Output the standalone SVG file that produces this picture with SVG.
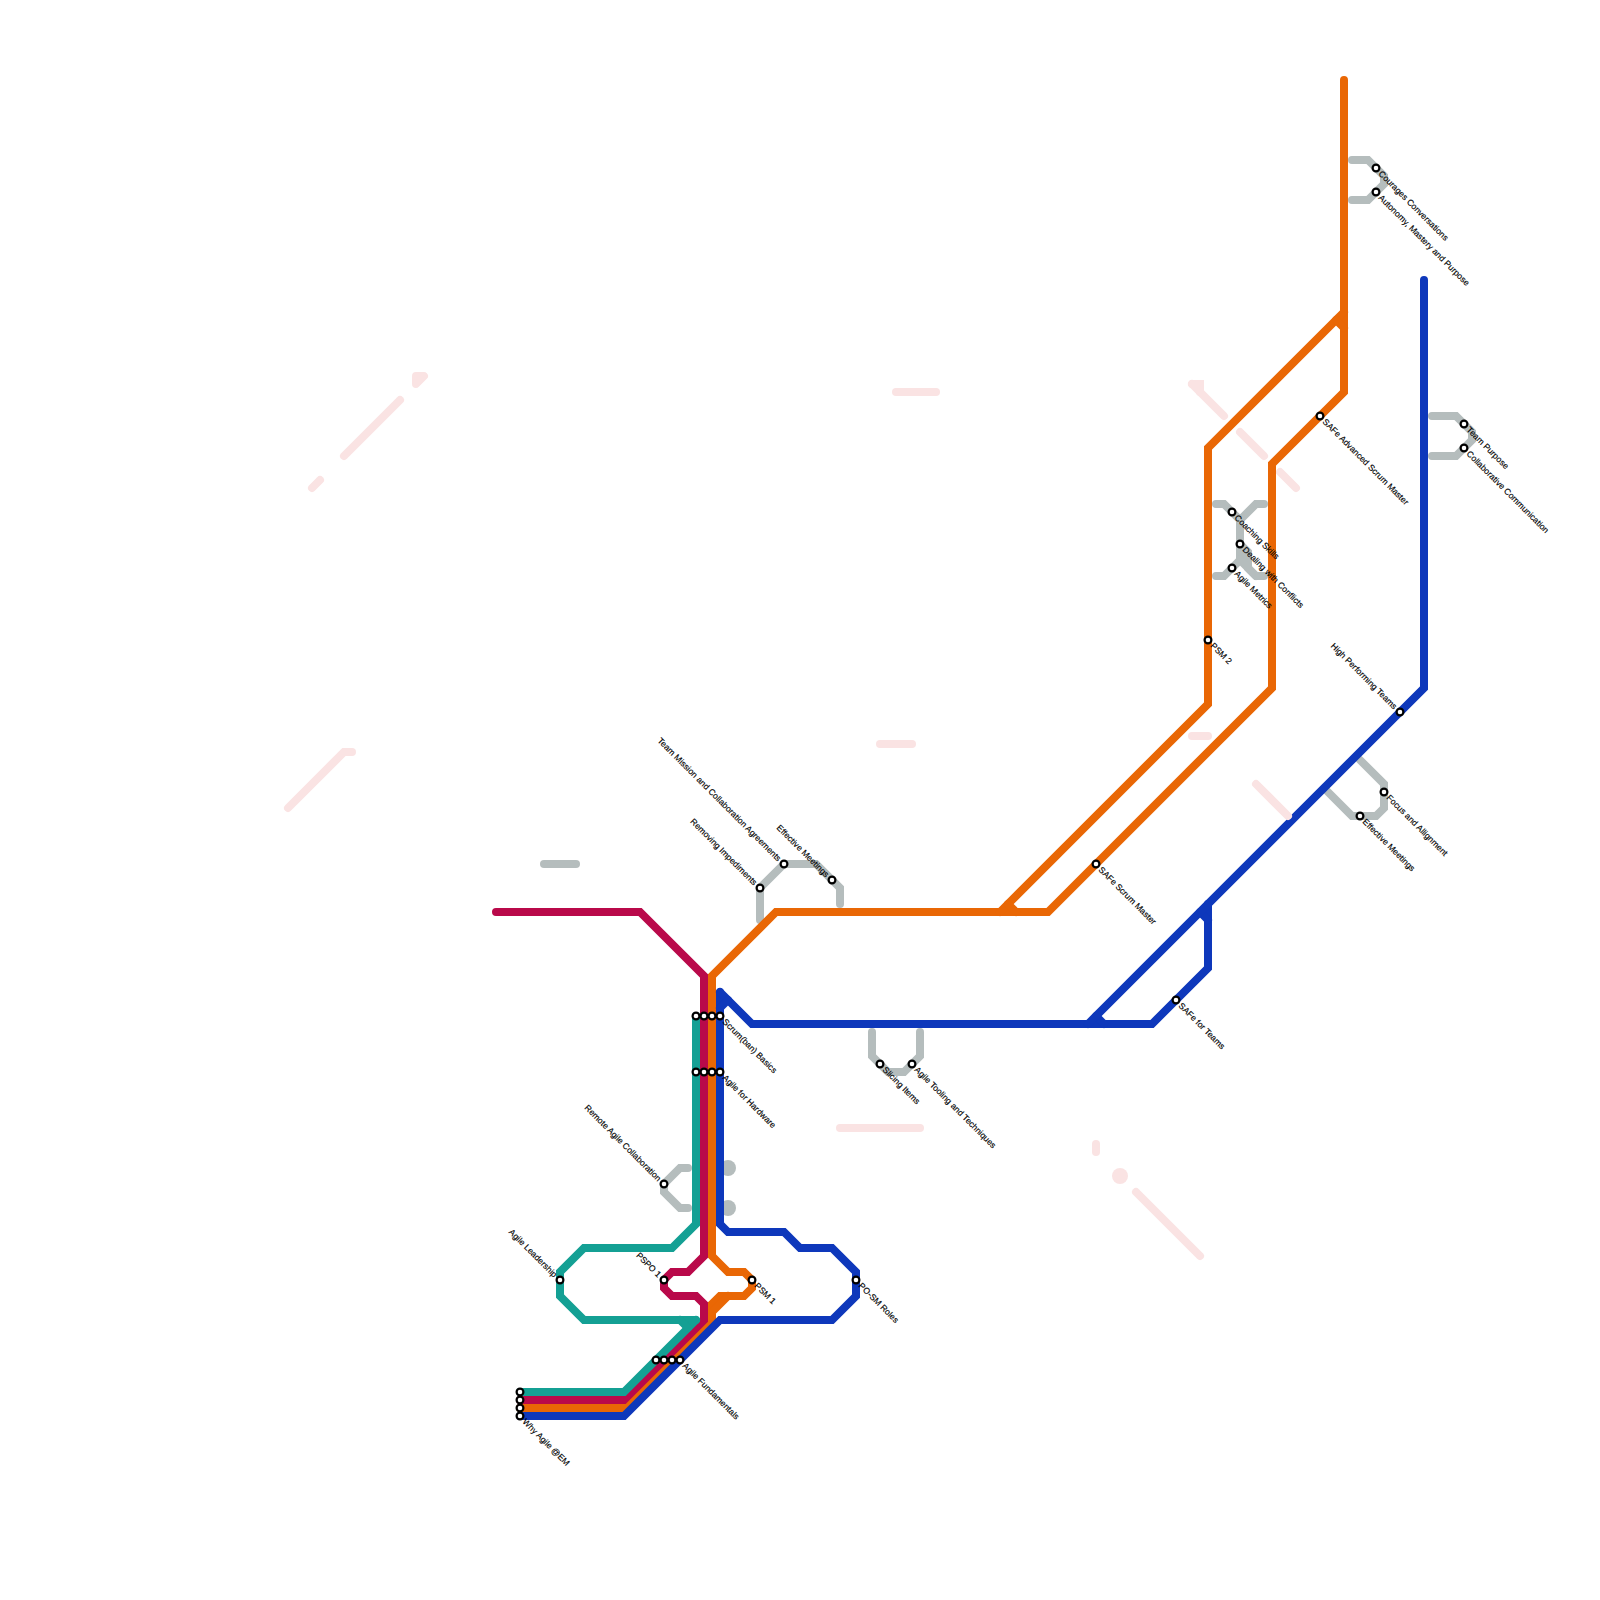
<svg xmlns="http://www.w3.org/2000/svg" width="1600" height="1600" viewBox="0 0 1600 1600">
<style>
.l{fill:none;stroke-width:8;stroke-linecap:round;stroke-linejoin:miter}
.p{stroke:#fae3e3}.g{stroke:#b5bdbd}.t{stroke:#14a094}.c{stroke:#b9094a}.o{stroke:#e96705}.b{stroke:#0e38bb}
circle{fill:#fff;stroke:#000;stroke-width:2.2}
text{font-family:"Liberation Sans",Arial,sans-serif;font-size:8.6px;fill:#000;stroke:#000;stroke-width:.15}
.e{text-anchor:end}
.dp{fill:#fae3e3;stroke:none}.dg{fill:#b5bdbd;stroke:none}
</style>
<rect width="1600" height="1600" fill="#fff"/>
<g id="connectors">
<g id="background-lines">
<path class="l p" d="M424 376H416V384Z" style="fill:#fae3e3;stroke-linejoin:round"/>
<path class="l p" d="M400 400L344 456"/>
<path class="l p" d="M320 480L312 488"/>
<path class="l p" d="M288 808L344 752H352"/>
<path class="l p" d="M896 392H936"/>
<path class="l p" d="M880 744H912"/>
<path class="l p" d="M840 1128H920"/>
<path class="l p" d="M1096 1144V1152"/>
<circle class="dp" cx="1120" cy="1176" r="8"/>
<path class="l p" d="M1136 1192L1200 1256"/>
<path class="l p" d="M1192 736H1208"/>
<path class="l p" d="M1200 392V384H1192"/>
<path class="l p" d="M1192 384L1224 416"/>
<path class="l p" d="M1240 432L1264 456"/>
<path class="l p" d="M1280 472L1296 488"/>
</g>
<g id="branch-lines">
<path class="l g" d="M544 864H576"/>
<path class="l g" d="M760 920V888L784 864H816L840 888V904"/>
<path class="l g" d="M872 1032V1056L888 1072H904L920 1056V1032"/>
<path class="l g" d="M688 1168H680L664 1184V1192L680 1208H688"/>
<circle class="dg" cx="728" cy="1168" r="8"/>
<circle class="dg" cx="728" cy="1208" r="8"/>
<path class="l g" d="M1216 504H1224L1240 520V560L1224 576H1216"/>
<path class="l g" d="M1264 504H1256L1240 520"/>
<path class="l g" d="M1240 544L1248 552V568L1256 576H1264"/>
<path class="l g" d="M1240 560L1256 576"/>
<path class="l g" d="M1352 160H1368L1384 176V184L1368 200H1352"/>
<path class="l g" d="M1432 416H1456L1472 432V440L1456 456H1432"/>
<path class="l g" d="M1360 760L1384 784V808L1376 816H1352L1328 792"/>
</g>
<g id="main-lines">
<path class="l o" d="M520 1408H624L712 1320V1304L720 1296H744L752 1288V1280L744 1272H728L712 1256V976L776 912H1048L1272 688V464L1344 392V80"/>
<path class="l o" d="M728 1296L712 1312"/>
<path class="l o" d="M1000 912L1208 704V448L1344 312"/>
<path class="l o" d="M1008 904L1016 912"/>
<path class="l o" d="M1336 320L1344 328"/>
<path class="l c" d="M496 912H640L704 976V1256L688 1272H672L664 1280V1288L672 1296H696L704 1304V1320L624 1400H520"/>
<path class="l t" d="M696 1320H584L560 1296V1272L584 1248H672L696 1224V1016"/>
<path class="l t" d="M520 1392H624L696 1320"/>
<path class="l t" d="M680 1320L688 1328"/>
<path class="l b" d="M520 1416H624L720 1320H832L856 1296V1272L832 1248H800L784 1232H728L720 1224V992"/>
<path class="l b" d="M720 992L752 1024H1152L1208 968V904"/>
<path class="l b" d="M728 1000L720 1008"/>
<path class="l b" d="M1200 912L1208 920"/>
<path class="l b" d="M1096 1016L1104 1024"/>
<path class="l b" d="M1088 1024L1424 688V280"/>
<path class="l p" d="M1256 784L1288 816"/>
</g>
</g>
<g id="n-why-1"><circle cx="520" cy="1392" r="3.4"/></g>
<g id="n-why-2"><circle cx="520" cy="1400" r="3.4"/></g>
<g id="n-why-3"><circle cx="520" cy="1408" r="3.4"/></g>
<g id="n-why"><circle cx="520" cy="1416" r="3.4"/><text transform="translate(520 1416) rotate(45)" x="6" y="3">Why Agile @EM</text></g>
<g id="n-fund-1"><circle cx="656" cy="1360" r="3.4"/></g>
<g id="n-fund-2"><circle cx="664" cy="1360" r="3.4"/></g>
<g id="n-fund-3"><circle cx="672" cy="1360" r="3.4"/></g>
<g id="n-fund"><circle cx="680" cy="1360" r="3.4"/><text transform="translate(680 1360) rotate(45)" x="6" y="3">Agile Fundamentals</text></g>
<g id="n-scrum-1"><circle cx="696" cy="1016" r="3.4"/></g>
<g id="n-scrum-2"><circle cx="704" cy="1016" r="3.4"/></g>
<g id="n-scrum-3"><circle cx="712" cy="1016" r="3.4"/></g>
<g id="n-scrum"><circle cx="720" cy="1016" r="3.4"/><text transform="translate(720 1016) rotate(45)" x="6" y="3">Scrum(ban) Basics</text></g>
<g id="n-hw-1"><circle cx="696" cy="1072" r="3.4"/></g>
<g id="n-hw-2"><circle cx="704" cy="1072" r="3.4"/></g>
<g id="n-hw-3"><circle cx="712" cy="1072" r="3.4"/></g>
<g id="n-hw"><circle cx="720" cy="1072" r="3.4"/><text transform="translate(720 1072) rotate(45)" x="6" y="3">Agile for Hardware</text></g>
<g id="n-psm1"><circle cx="752" cy="1280" r="3.4"/><text transform="translate(752 1280) rotate(45)" x="6" y="3">PSM 1</text></g>
<g id="n-posm"><circle cx="856" cy="1280" r="3.4"/><text transform="translate(856 1280) rotate(45)" x="6" y="3">PO-SM Roles</text></g>
<g id="n-slicing"><circle cx="880" cy="1064" r="3.4"/><text transform="translate(880 1064) rotate(45)" x="6" y="3">Slicing Items</text></g>
<g id="n-tooling"><circle cx="912" cy="1064" r="3.4"/><text transform="translate(912 1064) rotate(45)" x="6" y="3">Agile Tooling and Techniques</text></g>
<g id="n-safe-sm"><circle cx="1096" cy="864" r="3.4"/><text transform="translate(1096 864) rotate(45)" x="6" y="3">SAFe Scrum Master</text></g>
<g id="n-safe-t"><circle cx="1176" cy="1000" r="3.4"/><text transform="translate(1176 1000) rotate(45)" x="6" y="3">SAFe for Teams</text></g>
<g id="n-eff2"><circle cx="1360" cy="816" r="3.4"/><text transform="translate(1360 816) rotate(45)" x="6" y="3">Effective Meetings</text></g>
<g id="n-focus"><circle cx="1384" cy="792" r="3.4"/><text transform="translate(1384 792) rotate(45)" x="6" y="3">Focus and Allignment</text></g>
<g id="n-psm2"><circle cx="1208" cy="640" r="3.4"/><text transform="translate(1208 640) rotate(45)" x="6" y="3">PSM 2</text></g>
<g id="n-coach"><circle cx="1232" cy="512" r="3.4"/><text transform="translate(1232 512) rotate(45)" x="6" y="3">Coaching Skills</text></g>
<g id="n-deal"><circle cx="1240" cy="544" r="3.4"/><text transform="translate(1240 544) rotate(45)" x="6" y="3">Dealing with Conflicts</text></g>
<g id="n-metrics"><circle cx="1232" cy="568" r="3.4"/><text transform="translate(1232 568) rotate(45)" x="6" y="3">Agile Metrics</text></g>
<g id="n-safe-a"><circle cx="1320" cy="416" r="3.4"/><text transform="translate(1320 416) rotate(45)" x="6" y="3">SAFe Advanced Scrum Master</text></g>
<g id="n-cour"><circle cx="1376" cy="168" r="3.4"/><text transform="translate(1376 168) rotate(45)" x="6" y="3">Courages Conversations</text></g>
<g id="n-auto"><circle cx="1376" cy="192" r="3.4"/><text transform="translate(1376 192) rotate(45)" x="6" y="3">Autonomy, Mastery and Purpose</text></g>
<g id="n-team"><circle cx="1464" cy="424" r="3.4"/><text transform="translate(1464 424) rotate(45)" x="6" y="3">Team Purpose</text></g>
<g id="n-collab"><circle cx="1464" cy="448" r="3.4"/><text transform="translate(1464 448) rotate(45)" x="6" y="3">Collaborative Communication</text></g>
<g id="n-lead"><circle cx="560" cy="1280" r="3.4"/><text class="e" transform="translate(560 1280) rotate(45)" x="-6" y="3">Agile Leadership</text></g>
<g id="n-remote"><circle cx="664" cy="1184" r="3.4"/><text class="e" transform="translate(664 1184) rotate(45)" x="-6" y="3">Remote Agile Collaboration</text></g>
<g id="n-pspo"><circle cx="664" cy="1280" r="3.4"/><text class="e" transform="translate(664 1280) rotate(45)" x="-6" y="3">PSPO 1</text></g>
<g id="n-imped"><circle cx="760" cy="888" r="3.4"/><text class="e" transform="translate(760 888) rotate(45)" x="-6" y="3">Removing Impediments</text></g>
<g id="n-mission"><circle cx="784" cy="864" r="3.4"/><text class="e" transform="translate(784 864) rotate(45)" x="-6" y="3">Team Mission and Collaboration Agreements</text></g>
<g id="n-eff1"><circle cx="832" cy="880" r="3.4"/><text class="e" transform="translate(832 880) rotate(45)" x="-6" y="3">Effective Meetings</text></g>
<g id="n-high"><circle cx="1400" cy="712" r="3.4"/><text class="e" transform="translate(1400 712) rotate(45)" x="-6" y="3">High Performing Teams</text></g>
</svg>
